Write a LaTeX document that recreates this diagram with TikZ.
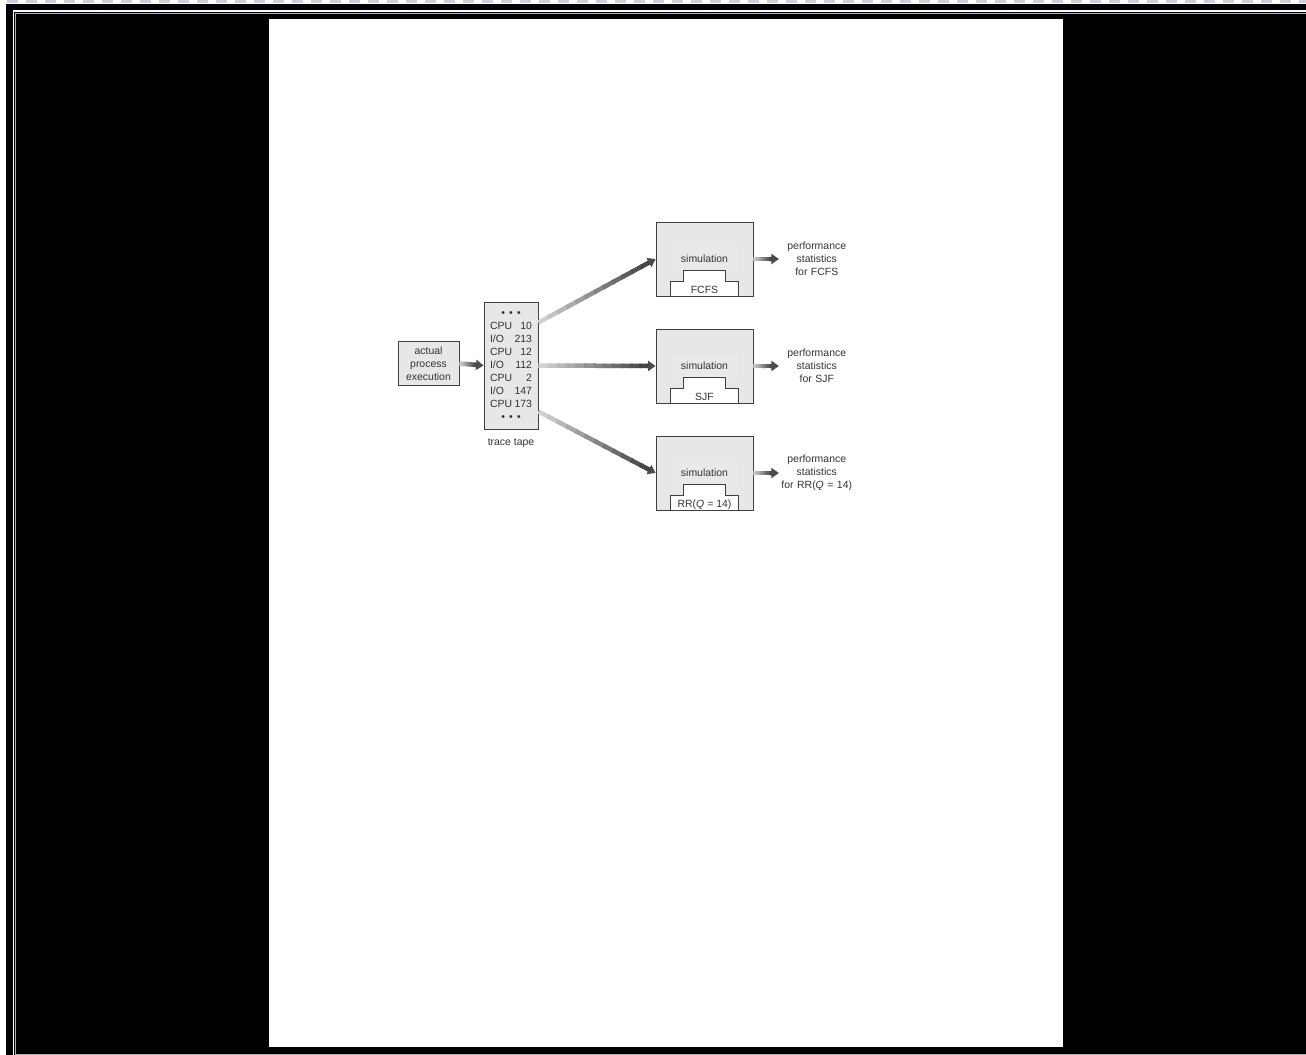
\documentclass[tikz,border=0pt]{standalone}
\usepackage{fontspec}
\setmainfont{Liberation Sans}
\usepackage{xcolor}
\usepackage{tikz}
\usetikzlibrary{positioning, arrows.meta, calc}
\definecolor{boxgray}{HTML}{E7E6E9}
\definecolor{simtint}{HTML}{EBE8EB}
\definecolor{inkgray}{HTML}{333333}
\definecolor{edgeblue}{HTML}{C8D2DE}

\newcommand{\dotrow}{•\hspace{2.4pt}•\hspace{2.4pt}•}
\newcommand{\fadearrow}[2]{%
  \draw[fadetip] ($(#2)!0.18cm!(#1)$) -- (#2);
  \coordinate (fa-end) at ($(#2)!0.145cm!(#1)$);
  \foreach \k in {0,...,11}{%
    \pgfmathsetmacro{\ta}{\k/12}%
    \pgfmathsetmacro{\tb}{min((\k+1.3)/12,1)}%
    \pgfmathsetmacro{\tone}{18+5*\k}%
    \draw[line width=0.09cm, black!\tone] ($(#1)!\ta!(fa-end)$) -- ($(#1)!\tb!(fa-end)$);
  }%
}

\begin{document}
\begin{tikzpicture}[x=0.02cm, y=-0.02cm,
    every node/.style={font=\fontsize{5.95}{7.4}\selectfont, text=inkgray},
    box/.style={draw=black!75, line width=0.5pt, fill=boxgray, inner sep=0pt},
    stepline/.style={draw=black!75, line width=0.5pt, fill=white},
    fadetip/.style={-{Triangle[length=0.15cm, width=0.2cm]}, line width=0.09cm, black!70}]
  \useasboundingbox (0,0) rectangle (1306,1055);
  % screen frame
  \fill[white] (0,0) rectangle (1306,1055);
  \draw[edgeblue, line width=0.05cm, dash pattern=on 0.23cm off 0.15cm] (7,1.5) -- (1306,1.5);
  \fill[black] (6,3.5) rectangle (1306,1055);
  \draw[white, line width=0.04cm] (13.5,1055) -- (13.5,11) -- (1306,11);
  \draw[black!30, line width=0.02cm] (1306,13) -| (15.5,1054.5) -- (1306,1054.5);
  \fill[white] (269,19) rectangle (1063,1047);

  \node[box, align=center, minimum width=1.22cm, minimum height=0.88cm] (exec) at (428.5,363.5) {actual\\process\\execution};
  \node[box, minimum width=1.08cm, minimum height=2.54cm] (tape) at (511,365.5) {%
    \begin{tabular*}{0.84cm}{@{}l@{\extracolsep{\fill}}r@{}}
      \multicolumn{2}{c}{\dotrow}\\
      CPU & 10\\ I/O & 213\\ CPU & 12\\ I/O & 112\\
      CPU & 2\\ I/O & 147\\ CPU & 173\\
      \multicolumn{2}{c}{\dotrow}
    \end{tabular*}};
  \node[below=0.18cm of tape, inner sep=0pt] (tapelabel) {trace tape};

  \foreach \i/\yc/\alg in {1/259/FCFS, 2/366/SJF, 3/473/{RR(\textit{Q} = 14)}}{
    \node[box, minimum width=1.94cm, minimum height=1.48cm] (sim\i) at (704.5,\yc) {};
    \node[fill=simtint, minimum width=1.32cm, minimum height=0.52cm, inner sep=0pt] (simtag\i) at (sim\i) {simulation};
    \draw[stepline] ([xshift=-0.68cm]sim\i.south) -- ++(0,-15) -- ++(13,0) -- ++(0,-11)
      -- ++(42,0) -- ++(0,11) -- ++(13,0) -- ++(0,15) -- cycle;
    \node[anchor=base, inner sep=0pt] (alg\i) at ([yshift=0.05cm]sim\i.south) {\alg};
    \node[right=0.51cm of sim\i, align=center, text width=1.5cm, inner sep=0pt] (perf\i) {performance\\statistics\\for \alg};
    \fadearrow{sim\i.east}{perf\i.west}
  }

  \coordinate (tapeup) at ([yshift=0.86cm]tape.east);
  \coordinate (tapedown) at ([yshift=-0.92cm]tape.east);
  \fadearrow{exec.east}{tape.west}
  \fadearrow{tapeup}{sim1.west}
  \fadearrow{tape.east}{sim2.west}
  \fadearrow{tapedown}{sim3.west}
\end{tikzpicture}
\end{document}
